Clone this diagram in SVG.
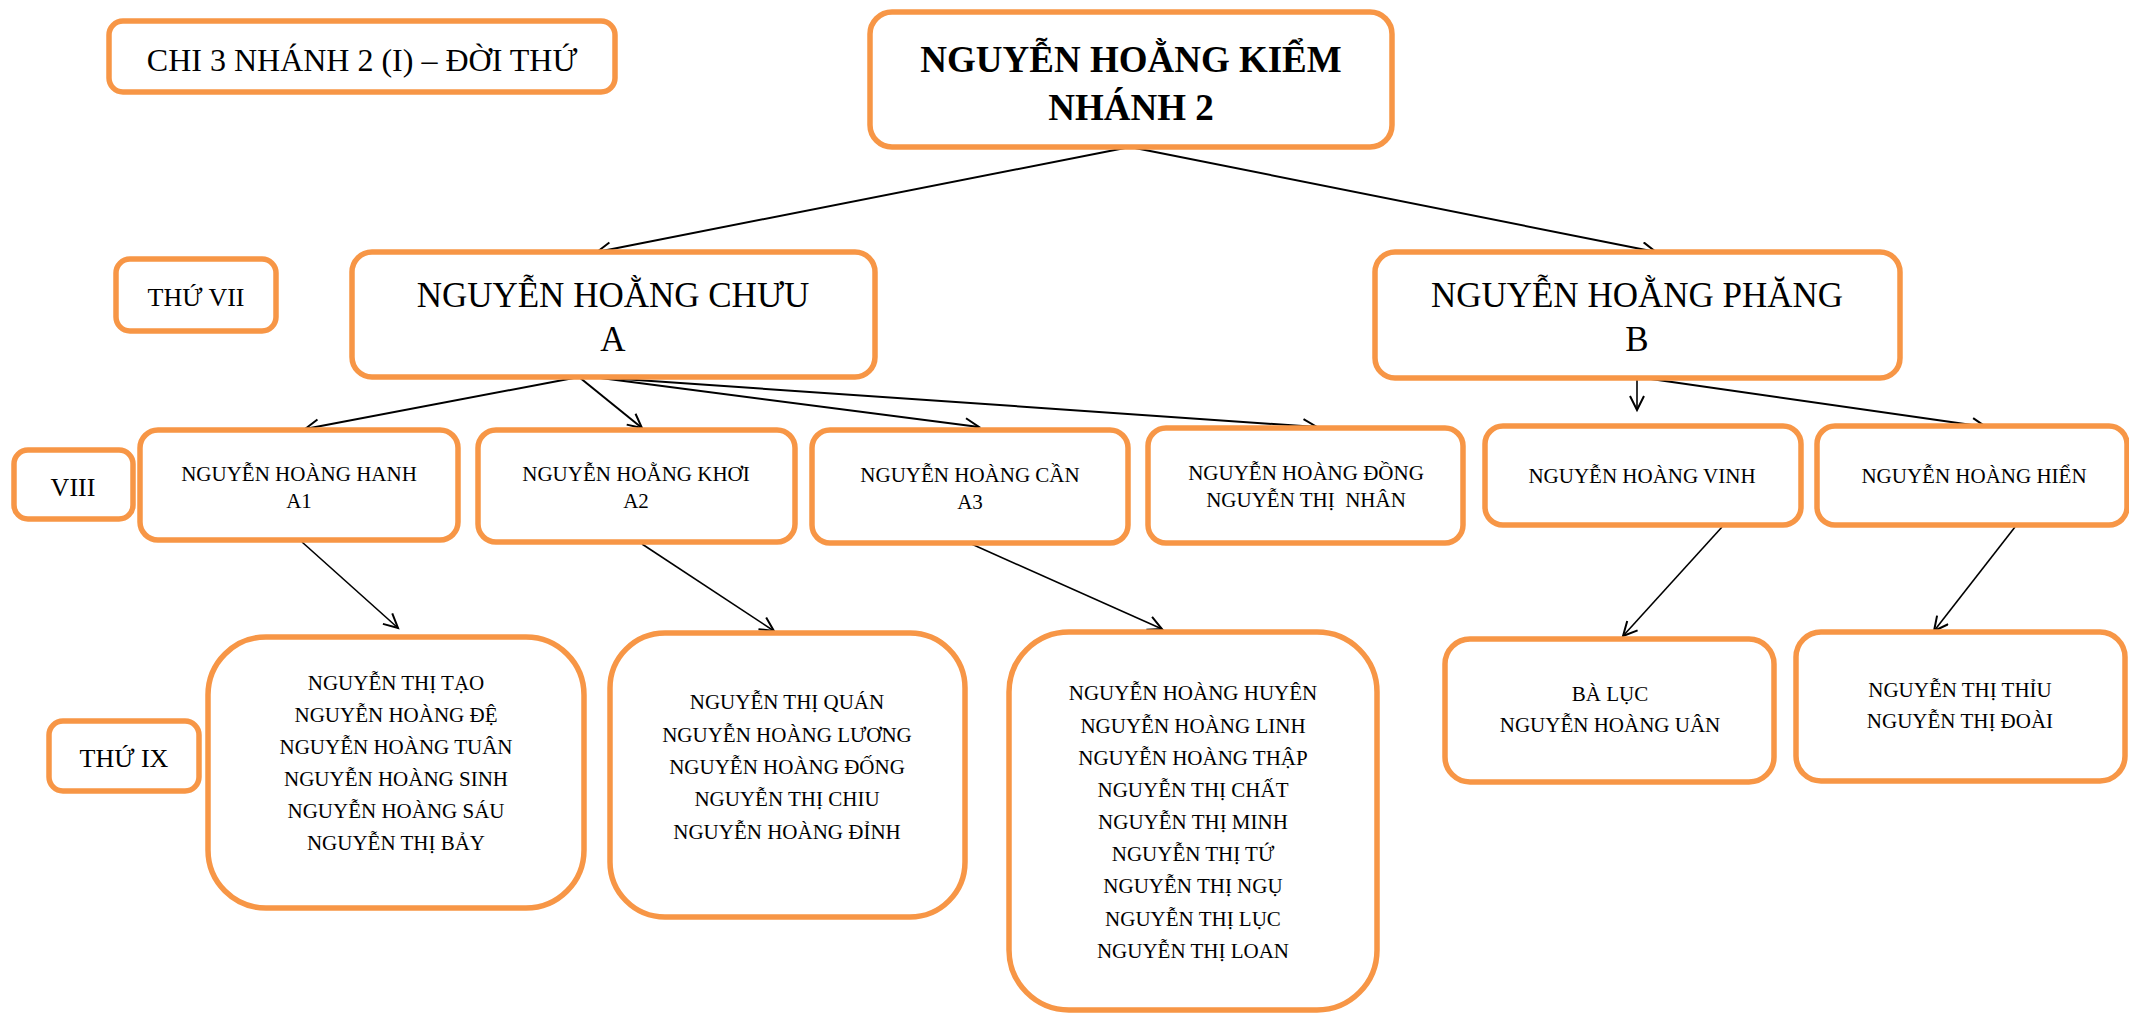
<svg xmlns="http://www.w3.org/2000/svg" width="2129" height="1013" viewBox="0 0 2129 1013">
<style>
.box{fill:#fff;stroke:#F79646;stroke-width:5.5}
text{font-family:"Liberation Serif","Times New Roman",serif;fill:#000;text-anchor:middle}
.t21{font-size:21px}
.t26{font-size:26px}
.t32{font-size:32px}
.t35{font-size:35px}
.big{font-size:37px;font-weight:bold}
.c{fill:none;stroke:#000;stroke-width:2}
.c2{fill:none;stroke:#000;stroke-width:1.6}
</style>
<defs>
<marker id="arr" markerUnits="userSpaceOnUse" markerWidth="20" markerHeight="20" refX="15" refY="8" orient="auto">
<path d="M1,1 L15,8 L1,15" fill="none" stroke="#000" stroke-width="2"/>
</marker>
</defs>
<g id="connectors">
<line class="c" x1="1130" y1="147" x2="597" y2="252" marker-end="url(#arr)"/>
<line class="c" x1="1130" y1="147" x2="1656" y2="252" marker-end="url(#arr)"/>
<line class="c" x1="579" y1="377" x2="305" y2="429" marker-end="url(#arr)"/>
<line class="c" x1="579" y1="377" x2="642" y2="428" marker-end="url(#arr)"/>
<line class="c" x1="593" y1="377" x2="979" y2="427" marker-end="url(#arr)"/>
<line class="c" x1="593" y1="377" x2="1317" y2="427" marker-end="url(#arr)"/>
<line class="c2" x1="1637" y1="363" x2="1637" y2="410" marker-end="url(#arr)"/>
<line class="c" x1="1637" y1="377" x2="1986" y2="427" marker-end="url(#arr)"/>
<line class="c2" x1="302" y1="542" x2="398" y2="628" marker-end="url(#arr)"/>
<line class="c2" x1="642" y1="544" x2="774" y2="631" marker-end="url(#arr)"/>
<line class="c2" x1="967" y1="542" x2="1162" y2="629" marker-end="url(#arr)"/>
<line class="c2" x1="1722" y1="527" x2="1623" y2="636" marker-end="url(#arr)"/>
<line class="c2" x1="2015" y1="527" x2="1934" y2="631" marker-end="url(#arr)"/>
</g>
<g id="label-chi">
<rect class="box" x="109" y="21" width="506" height="71" rx="14"/>
<text class="t32" x="362" y="71">CHI 3 NHÁNH 2 (I) – ĐỜI THỨ</text>
</g>
<g id="root">
<rect class="box" x="870" y="12" width="522" height="135" rx="22"/>
<text class="big" x="1131" y="72">NGUYỄN HOẰNG KIỂM</text>
<text class="big" x="1131" y="120">NHÁNH 2</text>
</g>
<g id="label-vii">
<rect class="box" x="116" y="259" width="160" height="72" rx="14"/>
<text class="t26" x="196" y="306">THỨ VII</text>
</g>
<g id="node-a">
<rect class="box" x="352" y="252" width="523" height="125" rx="20"/>
<text class="t35" x="613" y="307">NGUYỄN HOẰNG CHƯU</text>
<text class="t35" x="613" y="351">A</text>
</g>
<g id="node-b">
<rect class="box" x="1375" y="252" width="525" height="126" rx="20"/>
<text class="t35" x="1637" y="307">NGUYỄN HOẰNG PHĂNG</text>
<text class="t35" x="1637" y="351">B</text>
</g>
<g id="label-viii">
<rect class="box" x="14" y="450" width="119" height="69" rx="14"/>
<text class="t26" x="73" y="496">VIII</text>
</g>
<g id="node-a1">
<rect class="box" x="140" y="430" width="318" height="110" rx="18"/>
<text class="t21" x="299" y="481">NGUYỄN HOÀNG HANH</text>
<text class="t21" x="299" y="508">A1</text>
</g>
<g id="node-a2">
<rect class="box" x="478" y="430" width="317" height="112" rx="18"/>
<text class="t21" x="636" y="481">NGUYỄN HOẰNG KHƠI</text>
<text class="t21" x="636" y="508">A2</text>
</g>
<g id="node-a3">
<rect class="box" x="812" y="430" width="316" height="113" rx="18"/>
<text class="t21" x="970" y="482">NGUYỄN HOÀNG CẦN</text>
<text class="t21" x="970" y="509">A3</text>
</g>
<g id="node-dong">
<rect class="box" x="1148" y="428" width="315" height="115" rx="18"/>
<text class="t21" x="1306" y="480">NGUYỄN HOÀNG ĐỒNG</text>
<text class="t21" x="1306" y="507" xml:space="preserve" style="white-space:pre">NGUYỄN THỊ  NHÂN</text>
</g>
<g id="node-vinh">
<rect class="box" x="1485" y="426" width="316" height="99" rx="18"/>
<text class="t21" x="1642" y="483">NGUYỄN HOÀNG VINH</text>
</g>
<g id="node-hien">
<rect class="box" x="1817" y="426" width="310" height="99" rx="18"/>
<text class="t21" x="1974" y="483">NGUYỄN HOÀNG HIỂN</text>
</g>
<g id="label-ix">
<rect class="box" x="49" y="721" width="150" height="70" rx="14"/>
<text class="t26" x="124" y="767">THỨ IX</text>
</g>
<g id="node-a1-children">
<rect class="box" x="208" y="637" width="376" height="271" rx="58"/>
<text class="t21" x="396" y="690">NGUYỄN THỊ TẠO</text>
<text class="t21" x="396" y="722">NGUYỄN HOÀNG ĐỆ</text>
<text class="t21" x="396" y="754">NGUYỄN HOÀNG TUÂN</text>
<text class="t21" x="396" y="786">NGUYỄN HOÀNG SINH</text>
<text class="t21" x="396" y="818">NGUYỄN HOÀNG SÁU</text>
<text class="t21" x="396" y="850">NGUYỄN THỊ BẢY</text>
</g>
<g id="node-a2-children">
<rect class="box" x="610" y="633" width="355" height="284" rx="55"/>
<text class="t21" x="787" y="709">NGUYỄN THỊ QUÁN</text>
<text class="t21" x="787" y="742">NGUYỄN HOÀNG LƯƠNG</text>
<text class="t21" x="787" y="774">NGUYỄN HOÀNG ĐỐNG</text>
<text class="t21" x="787" y="806">NGUYỄN THỊ CHIU</text>
<text class="t21" x="787" y="839">NGUYỄN HOÀNG ĐỈNH</text>
</g>
<g id="node-a3-children">
<rect class="box" x="1009" y="632" width="368" height="378" rx="60"/>
<text class="t21" x="1193" y="700">NGUYỄN HOÀNG HUYÊN</text>
<text class="t21" x="1193" y="733">NGUYỄN HOÀNG LINH</text>
<text class="t21" x="1193" y="765">NGUYỄN HOÀNG THẬP</text>
<text class="t21" x="1193" y="797">NGUYỄN THỊ CHẤT</text>
<text class="t21" x="1193" y="829">NGUYỄN THỊ MINH</text>
<text class="t21" x="1193" y="861">NGUYỄN THỊ TỨ</text>
<text class="t21" x="1193" y="893">NGUYỄN THỊ NGỤ</text>
<text class="t21" x="1193" y="926">NGUYỄN THỊ LỤC</text>
<text class="t21" x="1193" y="958">NGUYỄN THỊ LOAN</text>
</g>
<g id="node-vinh-children">
<rect class="box" x="1445" y="639" width="329" height="143" rx="25"/>
<text class="t21" x="1610" y="701">BÀ LỤC</text>
<text class="t21" x="1610" y="732">NGUYỄN HOÀNG UÂN</text>
</g>
<g id="node-hien-children">
<rect class="box" x="1796" y="632" width="329" height="149" rx="25"/>
<text class="t21" x="1960" y="697">NGUYỄN THỊ THỈU</text>
<text class="t21" x="1960" y="728">NGUYỄN THỊ ĐOÀI</text>
</g>
</svg>
